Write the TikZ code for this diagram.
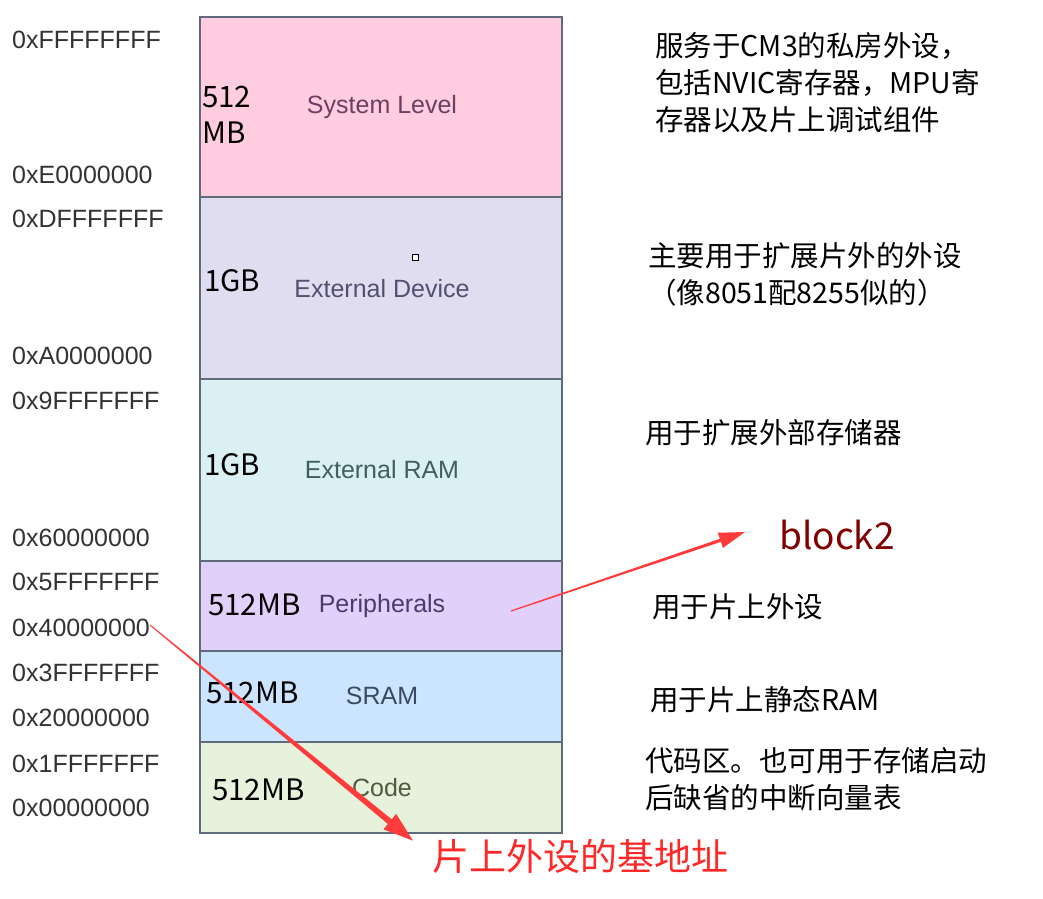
\documentclass[tikz,border=0pt]{standalone}
\usepackage{fontspec}
\setmainfont{Liberation Sans}
\newfontfamily\cjk{Noto Sans CJK SC}
\usetikzlibrary{calc}
\definecolor{bordc}{HTML}{5F6B7A}
\definecolor{arrowred}{HTML}{FF3B3B}
\definecolor{cSys}{HTML}{FFCCE0}
\definecolor{cExt}{HTML}{E1DDF1}
\definecolor{cRam}{HTML}{DBF0F2}
\definecolor{cPer}{HTML}{E0D0FA}
\definecolor{cSram}{HTML}{CCE5FF}
\definecolor{cCode}{HTML}{E6F2DC}
\definecolor{addrc}{HTML}{333333}
\newcommand\taparrow[6]{%
  \coordinate (hb) at ($(#2)!#5!(#1)$);
  \fill[arrowred] ($(#1)!#3!90:(#2)$) -- ($(hb)!#4!-90:(#1)$) -- ($(hb)!#6!-90:(#1)$)
    -- (#2) -- ($(hb)!#6!90:(#1)$) -- ($(hb)!#4!90:(#1)$) -- ($(#1)!#3!-90:(#2)$) -- cycle;}
\begin{document}
\begin{tikzpicture}[x=1pt,y=-1pt,
  regbox/.style={draw=bordc,line width=1.3pt},
  addrlbl/.style={anchor=west,inner sep=0pt,font=\fontsize{25}{25}\selectfont,text=addrc},
  sizelbl/.style={anchor=west,inner sep=0pt,font=\cjk\fontsize{29.5}{36}\selectfont,align=left},
  regname/.style={inner sep=0pt,font=\fontsize{25}{25}\selectfont},
  notetxt/.style={anchor=west,inner sep=0pt,font=\cjk\fontsize{28.5}{37}\selectfont,align=left},
]
\useasboundingbox[fill=white] (0,0) rectangle (1043,898);
% regions
\fill[cSys] (200,17) rectangle (562,197);
\fill[cExt] (200,197) rectangle (562,379);
\fill[cRam] (200,379) rectangle (562,561);
\fill[cPer] (200,561) rectangle (562,651);
\fill[cSram] (200,651) rectangle (562,742);
\fill[cCode] (200,742) rectangle (562,833);
\draw[regbox] (200,17) rectangle (562,833);
\foreach \y in {197,379,561,651,742} \draw[regbox] (200,\y) -- (562,\y);
% address labels
\node[addrlbl] (aFF) at (12,40) {0xFFFFFFFF};
\node[addrlbl] (aE0) at (12,175) {0xE0000000};
\node[addrlbl] (aDF) at (12,219) {0xDFFFFFFF};
\node[addrlbl] (aA0) at (12,356) {0xA0000000};
\node[addrlbl] (a9F) at (12,401) {0x9FFFFFFF};
\node[addrlbl] (a60) at (12,538) {0x60000000};
\node[addrlbl] (a5F) at (12,582) {0x5FFFFFFF};
\node[addrlbl] (a40) at (12,628) {0x40000000};
\node[addrlbl] (a3F) at (12,673) {0x3FFFFFFF};
\node[addrlbl] (a20) at (12,718) {0x20000000};
\node[addrlbl] (a1F) at (12,764) {0x1FFFFFFF};
\node[addrlbl] (a00) at (12,808) {0x00000000};
% size labels
\node[sizelbl] (sSys) at (202,115) {512\\MB};
\node[sizelbl] (sExt) at (204,281) {1GB};
\node[sizelbl] (sRam) at (204,465) {1GB};
\node[sizelbl] (sPer) at (208,605) {512MB};
\node[sizelbl] (sSram) at (206,693) {512MB};
\node[sizelbl] (sCode) at (212,790) {512MB};
% region names
\node[regname,text={rgb,255:red,106;green,64;blue,96}] (nSys) at (382,107) {System Level};
\node[regname,text={rgb,255:red,80;green,80;blue,112}] (nExt) at (382,289) {External Device};
\node[regname,text={rgb,255:red,63;green,95;blue,96}] (nRam) at (382,470) {External RAM};
\node[regname,text={rgb,255:red,74;green,58;blue,112}] (nPer) at (382,606) {Peripherals};
\node[regname,text={rgb,255:red,58;green,74;blue,96}] (nSram) at (382,696) {SRAM};
\node[regname,text={rgb,255:red,80;green,90;blue,64}] (nCode) at (382,788) {Code};
% small square
\node[draw=black,fill=white,line width=0.6pt,minimum size=6pt,inner sep=0pt] (sq) at (415,257) {};
% notes
\node[notetxt] (tSys) at (655,83) {服务于CM3的私房外设，\\包括NVIC寄存器，MPU寄\\存器以及片上调试组件};
\node[notetxt] (tExt) at (648,274) {主要用于扩展片外的外设\\（像8051配8255似的）};
\node[notetxt] (tRam) at (645,433) {用于扩展外部存储器};
\node[notetxt] (tPer) at (652,607) {用于片上外设};
\node[notetxt] (tSram) at (650,700) {用于片上静态RAM};
\node[notetxt] (tCode) at (645,779) {代码区。也可用于存储启动\\后缺省的中断向量表};
\node[anchor=west,inner sep=0pt,font=\cjk\fontsize{37}{37}\selectfont,text={rgb,255:red,128;green,0;blue,0}] (blk2) at (779,535) {block2};
\node[anchor=west,inner sep=0pt,font=\cjk\fontsize{37}{37}\selectfont,text={rgb,255:red,255;green,40;blue,40}] (base) at (432,856) {片上外设的基地址};
% arrows
\coordinate (p1) at (511,611);
\coordinate (h1) at ($(blk2.west)+(-34,-3)$);
\taparrow{p1}{h1}{0.6pt}{1.6pt}{26pt}{8pt}
\coordinate (p2) at ($(a40.east)+(0,-3)$);
\coordinate (h2) at ($(base.north west)+(-19,2)$);
\taparrow{p2}{h2}{0.5pt}{3pt}{30pt}{10pt}
\end{tikzpicture}
\end{document}
